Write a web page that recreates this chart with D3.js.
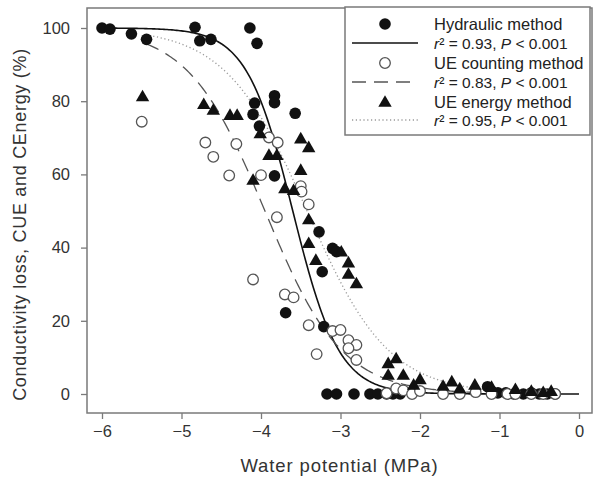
<!DOCTYPE html>
<html><head><meta charset="utf-8">
<script src="https://cdn.jsdelivr.net/npm/d3@7"></script>
<style>body{margin:0;background:#fff}svg{display:block}text{font-family:"Liberation Sans",Arial,sans-serif}</style>
</head><body><svg id="c" width="601" height="480"></svg>
<script>
const hydraulic = [[-6.0,100],[-5.9,99.7],[-5.63,98.4],[-5.44,96.9],[-4.83,100.2],[-4.77,96.5],[-4.63,96.9],[-4.14,100],[-4.05,95.8],[-4.08,79.5],[-4.1,76.4],[-4.02,73.2],[-3.83,81.5],[-3.83,79.6],[-3.57,76.7],[-3.83,59.6],[-3.27,44.3],[-3.1,39.8],[-3.05,38.9],[-3.23,33.4],[-3.69,22.2],[-3.21,18.4],[-3.17,0],[-3.05,0],[-2.83,0],[-2.63,0],[-2.53,0],[-2.42,0],[-2.34,0],[-2.25,0],[-1.15,2],[-1.1,0.8],[-1.02,0.3],[-0.92,0.3],[-0.82,0],[-0.7,0],[-0.6,0.3],[-0.5,0],[-0.4,0],[-0.3,0]];
const counting = [[-5.5,74.4],[-4.7,68.7],[-4.6,64.8],[-4.31,68.3],[-4.4,59.7],[-4.1,31.3],[-3.9,70.1],[-3.79,68.7],[-4.0,59.8],[-3.5,56.8],[-3.49,55.3],[-3.4,51.8],[-3.8,48.3],[-3.7,27.2],[-3.59,26.4],[-3.4,18.8],[-3.3,10.9],[-3.1,17.2],[-3.0,17.5],[-2.9,14.7],[-2.8,13.4],[-2.9,12.5],[-2.8,9.3],[-2.42,0.2],[-2.3,1.5],[-2.21,1],[-2.1,0],[-2.0,0.8],[-1.71,0],[-1.5,0],[-1.3,0.5],[-1.1,0],[-0.9,0],[-0.8,0],[-0.6,0],[-0.45,0],[-0.3,0]];
const energy = [[-5.49,81.3],[-4.72,79.2],[-4.6,77.6],[-4.39,76.2],[-4.3,76.2],[-4.1,58.5],[-4.01,71.2],[-3.5,69.8],[-3.4,67.4],[-3.9,65.3],[-3.8,65.3],[-3.5,61.2],[-3.7,56.2],[-3.59,55.7],[-3.4,47.7],[-3.4,41.2],[-2.99,38.9],[-3.31,36.6],[-2.9,35.9],[-2.9,32.8],[-2.8,30.2],[-2.4,8.4],[-2.3,9.7],[-2.4,5.2],[-2.21,5.2],[-2.0,4],[-2.08,2.5],[-1.71,2.2],[-1.6,3.4],[-1.5,1.5],[-1.31,2.5],[-1.1,1.9],[-0.8,1.3],[-0.6,0.8],[-0.45,0.5],[-0.35,0.8]];
// fitted sigmoid parameters: [P50, slope, xStart, xEnd]
const fitHydraulic = [-3.6, 3.45, -6.0, 0];
const fitCounting = [-3.95, 2.07, -5.45, -0.3];
const fitEnergy = [-3.42, 1.95, -5.45, -0.3];
const xTicks = [-6,-5,-4,-3,-2,-1,0];
const yTicks = [0,20,40,60,80,100];
const legendLabels = ["Hydraulic method","UE counting method","UE energy method"];
const legendStats = [["0.93","0.001"],["0.83","0.001"],["0.95","0.001"]];

const svg = d3.select("#c");
const x = d3.scaleLinear().domain([-6,0]).range([102,579]);
const y = d3.scaleLinear().domain([0,100]).range([394,28]);
const L=87,R=592,T=8,B=413;
const gray="#7a7a7a";

// frame
svg.append("rect").attr("x",L).attr("y",T).attr("width",R-L).attr("height",B-T)
  .attr("fill","none").attr("stroke",gray).attr("stroke-width",1.5);

// axes
const xa = svg.append("g").attr("transform",`translate(0,${B})`)
  .call(d3.axisBottom(x).tickValues(xTicks).tickSize(6).tickPadding(6).tickFormat(d=>d<0?"\u2212"+(-d):d));
const ya = svg.append("g").attr("transform",`translate(${L},0)`)
  .call(d3.axisLeft(y).tickValues(yTicks).tickSize(6).tickPadding(11));
[xa,ya].forEach(g=>{
  g.select(".domain").remove();
  g.selectAll("line").attr("stroke",gray).attr("stroke-width",1.3);
  g.selectAll("text").attr("fill","#333").style("font-size","16.5px");
});

// titles
svg.append("text").attr("x",(L+R)/2).attr("y",472).attr("text-anchor","middle")
  .attr("fill","#333").style("font-size","18.5px").style("letter-spacing","0.9px").text("Water potential (MPa)");
svg.append("text").attr("transform",`translate(26,${(T+B)/2+14}) rotate(-90)`).attr("text-anchor","middle")
  .attr("fill","#333").style("font-size","18px").style("letter-spacing","0.7px").text("Conductivity loss, CUE and CEnergy (%)");

// curves
function curve(p){
  const xs = d3.range(p[2], p[3]+1e-9, 0.02);
  return xs.map(v=>[v, 100/(1+Math.exp(p[1]*(v-p[0])))]);
}
const line = d3.line().x(d=>x(d[0])).y(d=>y(d[1]));
const styles = [
  {stroke:"#111",w:1.6,dash:null},
  {stroke:"#555",w:1.3,dash:"14,8"},
  {stroke:"#999",w:1.3,dash:"1.2,2.6"}
];
[fitHydraulic,fitCounting,fitEnergy].forEach((p,i)=>{
  svg.append("path").attr("d",line(curve(p))).attr("fill","none")
    .attr("stroke",styles[i].stroke).attr("stroke-width",styles[i].w)
    .attr("stroke-dasharray",styles[i].dash);
});

// markers
const tri = d3.symbol().type(d3.symbolTriangle).size(78);
function drawSeries(g,data,kind){
  if(kind===0){
    g.selectAll("circle").data(data).join("circle").attr("cx",d=>x(d[0])).attr("cy",d=>y(d[1]))
      .attr("r",5.8).attr("fill","#111");
  } else if(kind===1){
    g.selectAll("circle").data(data).join("circle").attr("cx",d=>x(d[0])).attr("cy",d=>y(d[1]))
      .attr("r",5.3).attr("fill","#fff").attr("stroke","#555").attr("stroke-width",1.3);
  } else {
    g.selectAll("path").data(data).join("path").attr("d",tri)
      .attr("transform",d=>`translate(${x(d[0])},${y(d[1])+1})`).attr("fill","#111");
  }
}
drawSeries(svg.append("g"),hydraulic,0);
drawSeries(svg.append("g"),counting,1);
drawSeries(svg.append("g"),energy,2);

// legend
const lg = svg.append("g");
lg.append("rect").attr("x",345).attr("y",7).attr("width",245).attr("height",128)
  .attr("fill","#fff").attr("stroke",gray).attr("stroke-width",1.5);
const rowY = [24,43,63,82,102,120];
legendLabels.forEach((lab,i)=>{
  const y1=rowY[2*i], y2=rowY[2*i+1];
  if(i===0) lg.append("circle").attr("cx",385).attr("cy",y1).attr("r",5.8).attr("fill","#111");
  if(i===1) lg.append("circle").attr("cx",385).attr("cy",y1).attr("r",5.3).attr("fill","#fff").attr("stroke","#555").attr("stroke-width",1.3);
  if(i===2) lg.append("path").attr("d",tri).attr("transform",`translate(385,${y1+1})`).attr("fill","#111");
  lg.append("line").attr("x1",352).attr("x2",418).attr("y1",y2).attr("y2",y2)
    .attr("stroke",styles[i].stroke).attr("stroke-width",styles[i].w).attr("stroke-dasharray",styles[i].dash);
  lg.append("text").attr("x",434).attr("y",y1+5.5).attr("fill","#222").style("font-size","16.5px").text(lab);
  const t = lg.append("text").attr("x",434).attr("y",y2+5.5).attr("fill","#222").style("font-size","15.5px");
  t.append("tspan").style("font-style","italic").text("r");
  t.append("tspan").text("\u00b2 = "+legendStats[i][0]+", ");
  t.append("tspan").style("font-style","italic").text("P");
  t.append("tspan").text(" < "+legendStats[i][1]);
});
</script></body></html>
